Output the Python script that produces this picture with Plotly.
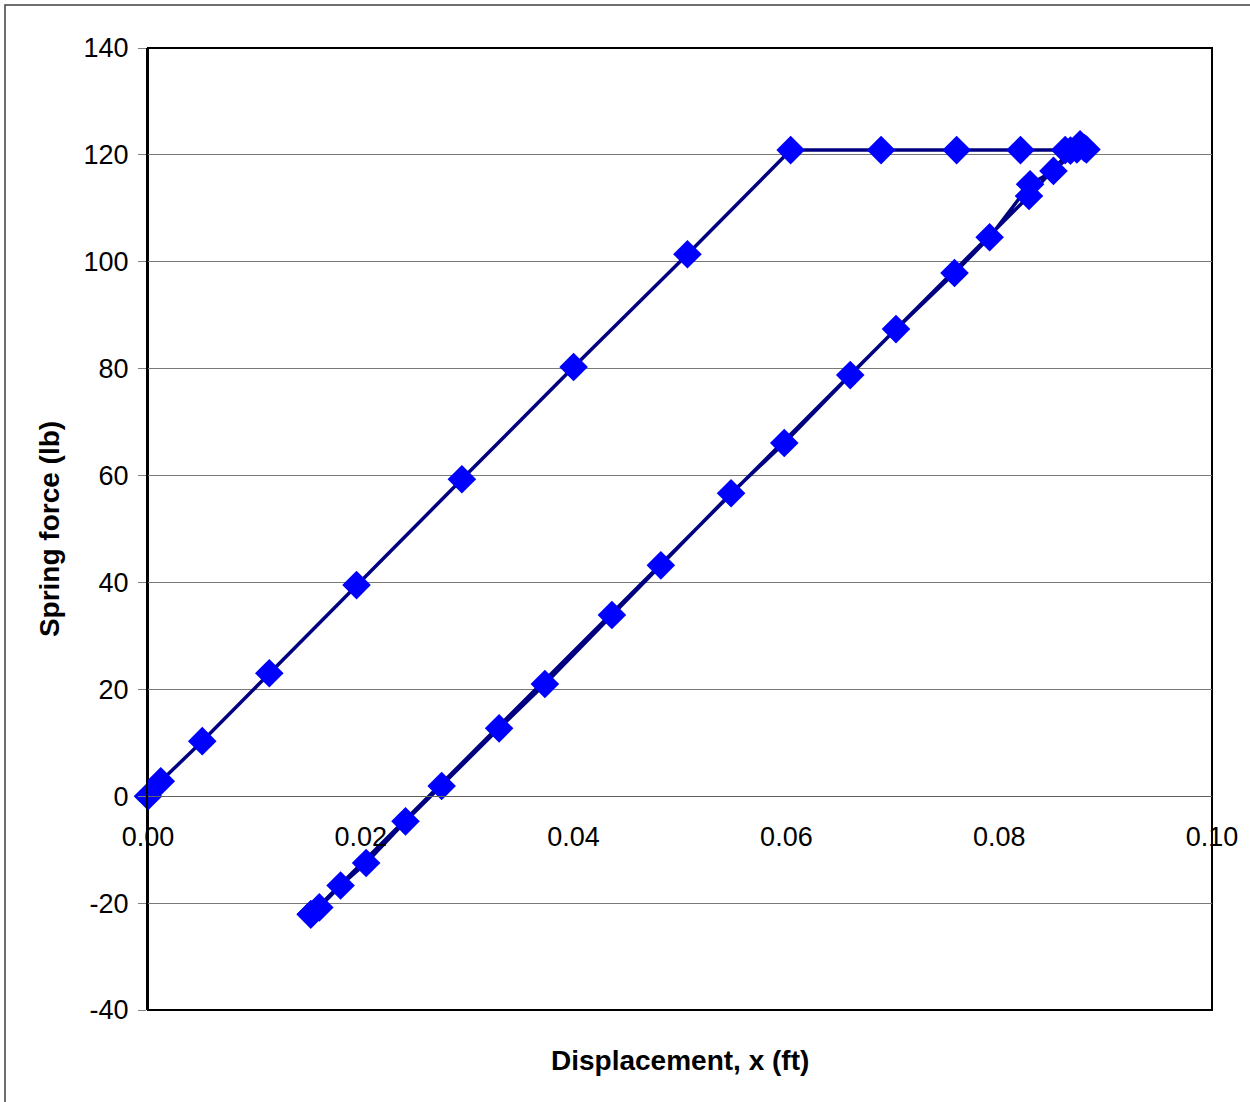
import plotly.graph_objects as go

# Loading branch (displacement ft, force lb)
x_load = [0.0000, 0.0012, 0.0051, 0.0114, 0.0196, 0.0295, 0.0400, 0.0507, 0.0604,
          0.0689, 0.0760, 0.0820, 0.0862, 0.0876, 0.0882]
y_load = [0.0, 2.8, 10.3, 23.0, 39.5, 59.3, 80.3, 101.4, 120.9,
          120.9, 120.9, 120.9, 120.9, 122.0, 121.0]

# Unloading branch
x_unload = [0.0873, 0.0851, 0.0829, 0.0791, 0.0758, 0.0703, 0.0660, 0.0598, 0.0548,
            0.0482, 0.0436, 0.0373, 0.0330, 0.0276, 0.0242, 0.0205, 0.0181, 0.0161, 0.0153]
y_unload = [121.0, 117.0, 114.5, 104.6, 97.9, 87.4, 78.8, 66.1, 56.7,
            43.2, 33.9, 21.0, 12.7, 1.9, -4.7, -12.5, -16.7, -20.8, -22.1]

# Reloading branch
x_reload = [0.0153, 0.0828, 0.0867, 0.0880]
y_reload = [-22.1, 112.3, 120.8, 121.3]

xs = x_load + x_unload + x_reload
ys = y_load + y_unload + y_reload

y_ticks = [-40, -20, 0, 20, 40, 60, 80, 100, 120, 140]
y_ticktext = ["-40", "-20", "0", "20", "40", "60", "80", "100", "120", "140"]
x_ticks = [0.00, 0.02, 0.04, 0.06, 0.08, 0.10]
x_ticktext = ["0.00", "0.02", "0.04", "0.06", "0.08", "0.10"]

FONT = "Liberation Sans, Arial, sans-serif"

fig = go.Figure()
fig.add_trace(go.Scatter(
    x=xs, y=ys, mode="lines+markers",
    line=dict(color="#000080", width=3.5),
    marker=dict(symbol="diamond", size=22, color="#0000FF", line=dict(width=0)),
    cliponaxis=False, showlegend=False,
))

fig.update_layout(
    width=1250, height=1102,
    margin=dict(l=148, r=38, t=48, b=92),
    paper_bgcolor="white", plot_bgcolor="white",
    font=dict(family=FONT, size=27, color="black"),
    xaxis=dict(
        range=[0, 0.10], tickvals=x_ticks, ticktext=x_ticktext,
        showgrid=False, zeroline=False,
        anchor="free", position=40/180,
        showline=True, linecolor="#606060", linewidth=1,
        ticks="outside", ticklen=6, tickcolor="rgba(0,0,0,0)",
        ticklabelstandoff=10,
        tickfont=dict(family=FONT, size=27, color="black"),
    ),
    yaxis=dict(
        range=[-40, 140], tickvals=y_ticks, ticktext=y_ticktext,
        showgrid=True, gridcolor="#787878", gridwidth=1,
        zeroline=False,
        showline=True, linecolor="black", linewidth=2,
        ticks="outside", ticklen=8, tickcolor="#808080",
        ticklabelstandoff=4,
        tickfont=dict(family=FONT, size=27, color="black"),
        title=dict(text="<b>Spring force (lb)</b>", font=dict(family=FONT, size=28), standoff=16),
    ),
    shapes=[
        dict(type="rect", xref="paper", yref="paper", x0=0, x1=1, y0=0, y1=1,
             line=dict(color="black", width=2), layer="between"),
        dict(type="rect", xref="paper", yref="paper",
             x0=(5 - 148) / 1064, x1=(1260 - 148) / 1064,
             y0=(1010 - 1110) / 962, y1=(1010 - 5) / 962,
             line=dict(color="#404040", width=1.5), layer="below"),
    ],
    annotations=[
        dict(text="<b>Displacement, x (ft)</b>", xref="paper", yref="paper",
             x=0.5, y=(1010 - 1060) / 962, showarrow=False,
             xanchor="center", yanchor="middle",
             font=dict(family=FONT, size=28, color="black")),
    ],
)

fig.write_html("out.html", config={"displayModeBar": False},
               post_script="document.body.style.margin='0px';document.body.style.overflow='hidden';")
